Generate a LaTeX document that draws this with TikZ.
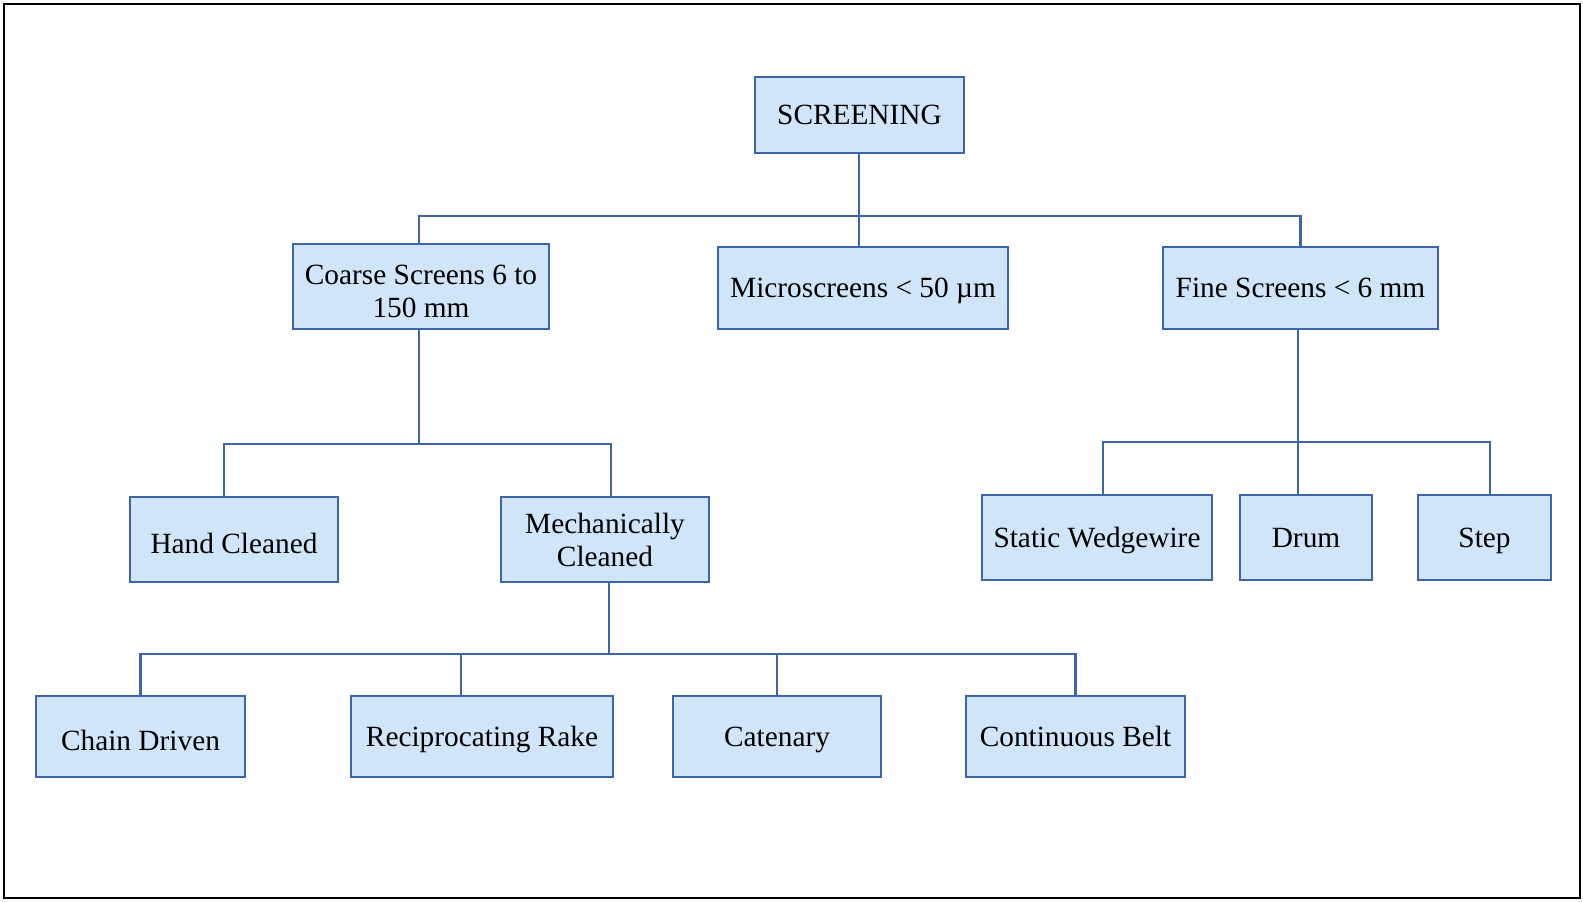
\documentclass[tikz,border=0pt]{standalone}
\usepackage{fontspec}
\setmainfont{Liberation Serif}
\usetikzlibrary{positioning}
\definecolor{boxfill}{HTML}{D0E4FA}
\definecolor{boxline}{HTML}{3E66A6}
\tikzset{
  box/.style 2 args={draw=boxline, fill=boxfill, line width=1.8pt, align=center,
    inner sep=0pt, text depth=0pt, font=\fontsize{22}{25}\selectfont,
    minimum width=#1*0.75pt, minimum height=#2*0.75pt},
  lower/.style={text height=#1},
  link/.style={draw=boxline, line width=1.6pt}
}
\begin{document}
\begin{tikzpicture}[x=0.75pt,y=-0.75pt]
\useasboundingbox (0,0) rectangle (1583,902);
\draw[line width=2.2pt] (4,4) rectangle (1580,898);
% top level
\node[box={209}{76}] (scr) at (859.5,115) {SCREENING};
\node[box={256}{85}, lower=47pt] (coarse) at (421,286.5) {Coarse Screens 6 to\\150 mm};
\node[box={290}{82}] (micro) at (863,288) {Microscreens < 50 µm};
\node[box={275}{82}] (fine) at (1300.5,288) {Fine Screens < 6 mm};
% second level
\node[box={208}{85}, lower=21.5pt] (hand) at (234,539.5) {Hand Cleaned};
\node[box={208}{85}] (mech) at (605,539.5) {Mechanically\\Cleaned};
\node[box={230}{85}] (wedge) at (1097,537.5) {Static Wedgewire};
\node[box={132}{85}] (drum) at (1306,537.5) {Drum};
\node[box={133}{85}] (stepbox) at (1484.5,537.5) {Step};
% third level
\node[box={209}{81}, lower=20.5pt] (chain) at (140.5,736.5) {Chain Driven};
\node[box={262}{81}] (recip) at (482,736.5) {Reciprocating Rake};
\node[box={208}{81}] (caten) at (777,736.5) {Catenary};
\node[box={219}{81}] (belt) at (1075.5,736.5) {Continuous Belt};
% connectors
\coordinate (b1) at (859,216);
\draw[link] (scr.south -| b1) -- (b1);
\draw[link] ([xshift=-1.5pt]coarse.north) |- (b1) -| (fine.north);
\draw[link] (b1) -- (micro.north -| b1);
\coordinate (b2) at (419,444);
\draw[link] (coarse.south -| b2) -- (b2);
\draw[link] ([xshift=-7.5pt]hand.north) |- (b2) -| ([xshift=4.5pt]mech.north);
\coordinate (b3) at (609,654);
\draw[link] (mech.south -| b3) -- (b3);
\draw[link] (chain.north) |- (b3) -| (belt.north);
\draw[link] ([xshift=-15.75pt]recip.north) -- ([xshift=-15.75pt]recip.north |- b3);
\draw[link] (caten.north) -- (caten.north |- b3);
\coordinate (b4) at (1298,442);
\draw[link] (fine.south -| b4) -- (b4);
\draw[link] ([xshift=4.5pt]wedge.north) |- (b4) -| ([xshift=4pt]stepbox.north);
\draw[link] (b4) -- (drum.north -| b4);
\end{tikzpicture}
\end{document}
